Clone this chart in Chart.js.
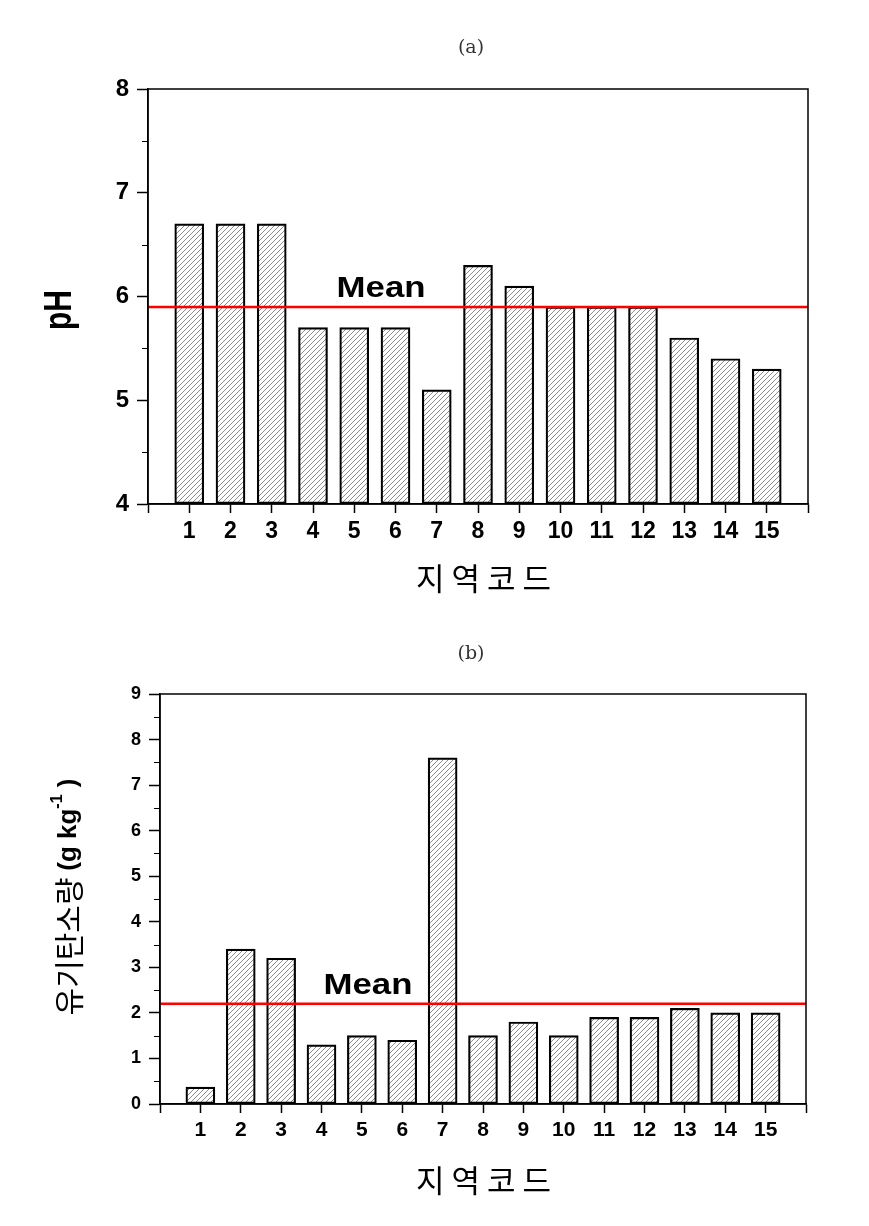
<!DOCTYPE html>
<html>
<head>
<meta charset="utf-8">
<script src="https://cdn.jsdelivr.net/npm/chart.js@4.4.1/dist/chart.umd.min.js"></script>
<style>
  body { margin: 0; background: #fff; }
  canvas { display: block; }
</style>
</head>
<body>
<canvas id="chartA" width="869" height="613"></canvas>
<canvas id="chartB" width="869" height="613"></canvas>
<script>
// data
const regionCodes = [1, 2, 3, 4, 5, 6, 7, 8, 9, 10, 11, 12, 13, 14, 15];
const phValues = [6.7, 6.7, 6.7, 5.7, 5.7, 5.7, 5.1, 6.3, 6.1, 5.9, 5.9, 5.9, 5.6, 5.4, 5.3];
const phMean = 5.9;
const carbonValues = [0.37, 3.4, 3.2, 1.3, 1.5, 1.4, 7.6, 1.5, 1.8, 1.5, 1.9, 1.9, 2.1, 2.0, 2.0];
const carbonMean = 2.2;
const xTitle = '지역코드';

// hatch fill "////"
function makeHatch() {
    const c = document.createElement('canvas');
    c.width = 5; c.height = 5;
    const g = c.getContext('2d');
    g.fillStyle = '#fff';
    g.fillRect(0, 0, 5, 5);
    g.strokeStyle = '#666';
    g.lineWidth = 0.75;
    g.beginPath();
    g.moveTo(-1, 6); g.lineTo(6, -1);
    g.moveTo(-1, 1); g.lineTo(1, -1);
    g.moveTo(4, 6); g.lineTo(6, 4);
    g.stroke();
    return g.createPattern(c, 'repeat');
}
const hatch = makeHatch();

// box, minor ticks, labels
const decoPlugin = {
    id: 'deco',
    afterDraw(chart, args, o) {
        const ctx = chart.ctx;
        const a = chart.chartArea;
        const y = chart.scales.y;
        const x = chart.scales.x;
        ctx.save();
        ctx.strokeStyle = '#000';
        ctx.lineWidth = 1.5;
        ctx.strokeRect(a.left, a.top, a.right - a.left, a.bottom - a.top);
        // minor ticks
        ctx.lineWidth = 1;
        ctx.beginPath();
        for (let v = o.yMin + 0.5; v < o.yMax; v += 1) {
            const py = Math.round(y.getPixelForValue(v)) + 0.5;
            ctx.moveTo(a.left - 6, py); ctx.lineTo(a.left, py);
        }
        ctx.stroke();
        // Mean label
        const my = y.getPixelForValue(o.mean);
        ctx.fillStyle = '#000';
        ctx.font = 'bold 29px "Liberation Sans", Arial';
        ctx.textAlign = 'center';
        ctx.textBaseline = 'bottom';
        ctx.save();
        ctx.translate(x.getPixelForValue(o.meanX), my - 3);
        ctx.scale(1.2, 1);
        ctx.fillText('Mean', 0, 0);
        ctx.restore();
        // panel label
        ctx.font = '19px "DejaVu Serif", serif';
        ctx.fillStyle = '#333';
        ctx.textBaseline = 'middle';
        ctx.fillText(o.panel, 471, o.panelY);
        // x title
        ctx.fillStyle = '#000';
        ctx.font = '31px "Noto Sans CJK KR"';
        ctx.letterSpacing = '7px';
        ctx.fillText(xTitle, 487, o.xTitleY);
        ctx.letterSpacing = '0px';
        // y title
        o.drawYTitle(ctx);
        ctx.restore();
    }
};

function makeChart(id, values, mean, o) {
    return new Chart(document.getElementById(id), {
        type: 'bar',
        data: {
            datasets: [
                {
                    type: 'line',
                    data: [{ x: 0, y: mean }, { x: 16, y: mean }],
                    borderColor: '#ff0000',
                    borderWidth: 2.5,
                    pointRadius: 0,
                    order: 0
                },
                {
                    data: regionCodes.map((c, i) => ({ x: c, y: values[i] })),
                    backgroundColor: hatch,
                    borderColor: '#000',
                    borderWidth: 2.2,
                    borderSkipped: false,
                    barThickness: 29,
                    base: o.yMin,
                    order: 1
                }
            ]
        },
        options: {
            responsive: false,
            animation: false,
            layout: { padding: { left: 0, right: o.padRight, top: o.padTop, bottom: 0 } },
            plugins: { legend: { display: false }, tooltip: { enabled: false }, deco: o },
            scales: {
                x: {
                    type: 'linear',
                    min: 0, max: 16,
                    offset: false,
                    afterFit(s) { s.height = o.xHeight; },
                    grid: { offset: false, drawOnChartArea: false, drawTicks: true, tickLength: 9, tickColor: '#000', tickWidth: 1.5 },
                    border: { display: true, color: '#000', width: 1.5 },
                    ticks: {
                        stepSize: 1, autoSkip: false, maxRotation: 0, padding: 5,
                        color: '#000',
                        font: { family: '"Liberation Sans", Arial', weight: 'bold', size: o.xTickSize },
                        callback: v => (v >= 1 && v <= 15) ? v : ''
                    }
                },
                y: {
                    min: o.yMin, max: o.yMax,
                    afterFit(s) { s.width = o.yWidth; },
                    grid: { drawOnChartArea: false, drawTicks: true, tickLength: 11, tickColor: '#000', tickWidth: 1.5 },
                    border: { display: true, color: '#000', width: 1.5 },
                    ticks: {
                        stepSize: 1, padding: 8,
                        color: '#000',
                        font: { family: '"Liberation Sans", Arial', weight: 'bold', size: o.yTickSize }
                    }
                }
            }
        },
        plugins: [decoPlugin]
    });
}

makeChart('chartA', phValues, phMean, {
    yMin: 4, yMax: 8, mean: phMean, meanX: 5.65,
    yWidth: 148, padRight: 61, padTop: 89, xHeight: 109,
    xTickSize: 23, yTickSize: 24, panel: '(a)', panelY: 48, xTitleY: 578,
    drawYTitle(ctx) {
        ctx.save();
        ctx.translate(71, 310);
        ctx.rotate(-Math.PI / 2);
        ctx.scale(1, 1.3);
        ctx.font = 'bold 30px "Liberation Sans", Arial';
        ctx.textAlign = 'center';
        ctx.textBaseline = 'alphabetic';
        ctx.fillText('pH', 0, 0);
        ctx.restore();
    }
});

makeChart('chartB', carbonValues, carbonMean, {
    yMin: 0, yMax: 9, mean: carbonMean, meanX: 5.15,
    yWidth: 160, padRight: 63, padTop: 81, xHeight: 122,
    xTickSize: 21, yTickSize: 18, panel: '(b)', panelY: 41, xTitleY: 567,
    drawYTitle(ctx) {
        const parts = [
            ['유기탄소량 ', '30px "Noto Sans CJK KR"', 0],
            ['(g kg', 'bold 26px "Liberation Sans", Arial', 0],
            ['-1', 'bold 16px "Liberation Sans", Arial', -11],
            [' )', 'bold 26px "Liberation Sans", Arial', 0]
        ];
        ctx.save();
        ctx.translate(69, 284);
        ctx.rotate(-Math.PI / 2);
        ctx.textAlign = 'left';
        ctx.textBaseline = 'middle';
        let total = 0;
        parts.forEach(p => { ctx.font = p[1]; total += ctx.measureText(p[0]).width; });
        let cx = -total / 2;
        parts.forEach(p => {
            ctx.font = p[1];
            ctx.fillText(p[0], cx, p[2]);
            cx += ctx.measureText(p[0]).width;
        });
        ctx.restore();
    }
});
</script>
</body>
</html>
